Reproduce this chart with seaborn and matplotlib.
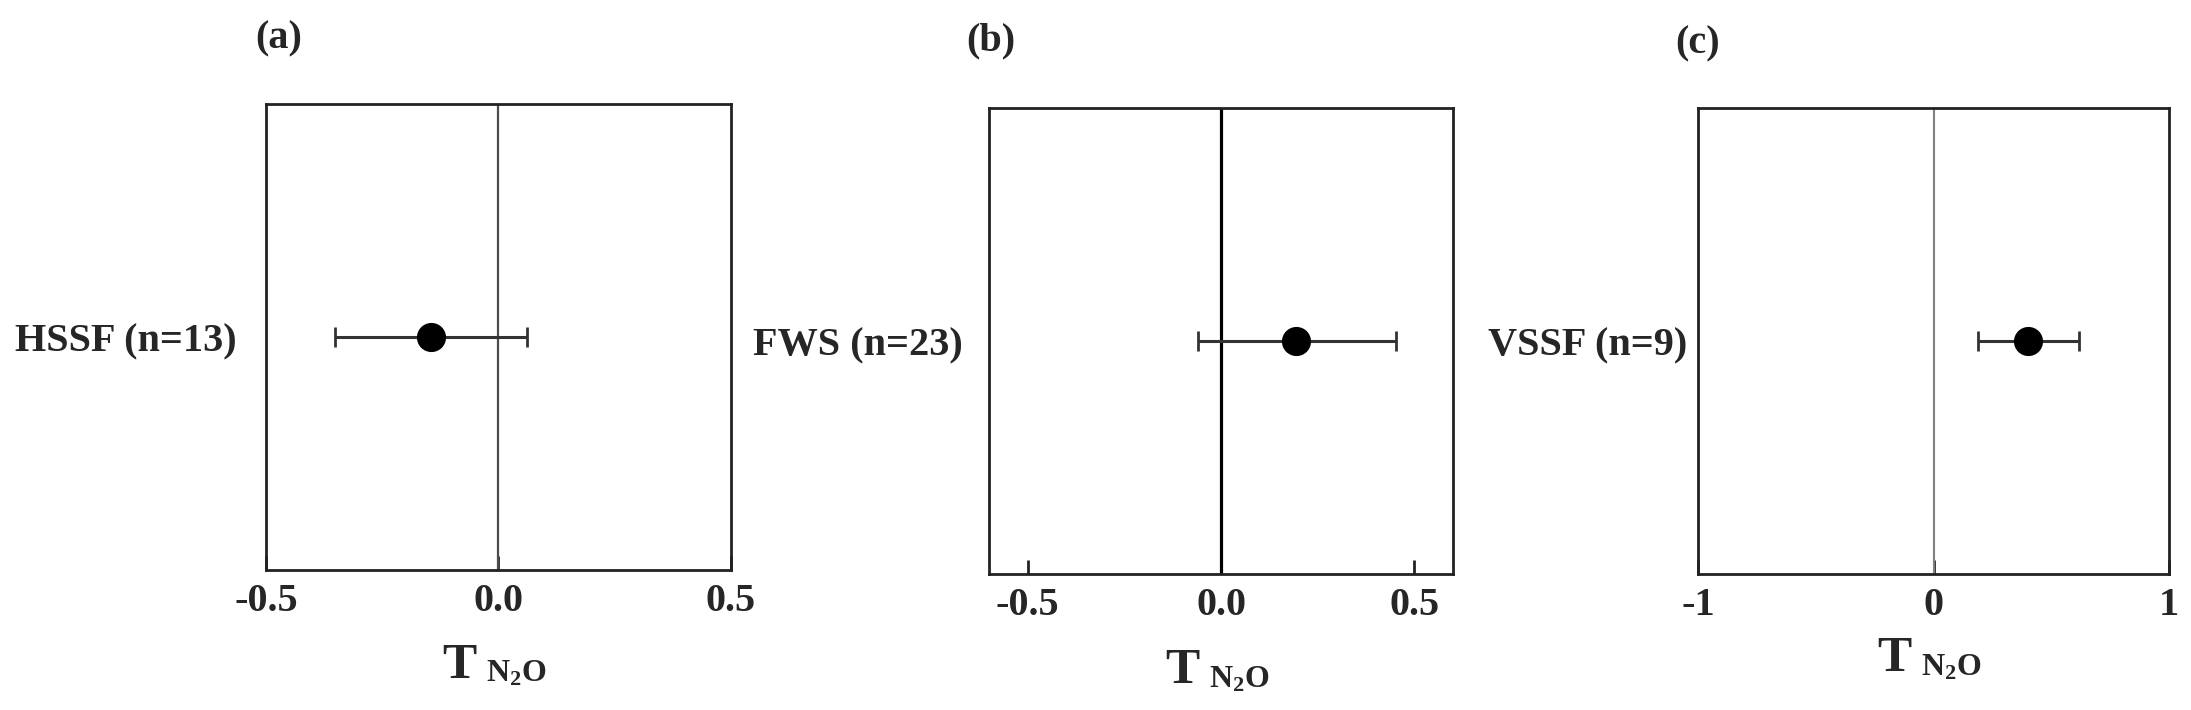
# forest-style panels: effect size T(N2O) for three wetland types
import numpy as np
import pandas as pd
import matplotlib
matplotlib.use('Agg')
import matplotlib.pyplot as plt
import seaborn as sns

# data
groups = ['HSSF (n=13)', 'FWS (n=23)', 'VSSF (n=9)']
effect = [-0.145, 0.195, 0.403]
ci_low = [-0.352, -0.060, 0.188]
ci_high = [0.062, 0.453, 0.616]
panel_tags = ['(a)', '(b)', '(c)']
x_limits = [(-0.5, 0.5), (-0.6, 0.6), (-1, 1)]
x_ticks = [[-0.5, 0.0, 0.5], [-0.5, 0.0, 0.5], [-1, 0, 1]]
x_ticklabels = [['-0.5', '0.0', '0.5'], ['-0.5', '0.0', '0.5'], ['-1', '0', '1']]

sns.set_theme(style='white')
plt.rcParams['font.family'] = ['Liberation Serif', 'DejaVu Serif']
plt.rcParams['font.weight'] = 'bold'
plt.rcParams['axes.unicode_minus'] = False
plt.rcParams['mathtext.fontset'] = 'custom'
plt.rcParams['mathtext.rm'] = 'Liberation Serif:bold'
plt.rcParams['mathtext.bf'] = 'Liberation Serif:bold'

fig = plt.figure(figsize=(21.91, 7.1), dpi=100)

# axes placement in figure fractions
boxes = [[0.1214, 0.1965, 0.2122, 0.6577],
         [0.4514, 0.1915, 0.2118, 0.6563],
         [0.7750, 0.1915, 0.2150, 0.6563]]
zero_style = [('#4d4d4d', 1.6), ('black', 2.3), ('#808080', 1.5)]
ylab_pad = [21, 19, 8]
xlab_y = [-0.155, -0.159, -0.133]
tag_pos = [(0.028, 1.138), (0.004, 1.144), (0.0, 1.137)]

for i in range(3):
    ax = fig.add_axes(boxes[i])
    df = pd.DataFrame({'effect': [effect[i]], 'group': [groups[i]]})

    # zero line
    ax.axvline(0, color=zero_style[i][0], lw=zero_style[i][1], zorder=1)

    # 95% CI bar
    err = [[effect[i] - ci_low[i]], [ci_high[i] - effect[i]]]
    ax.errorbar(x=[effect[i]], y=[groups[i]], xerr=err, fmt='none',
                ecolor='#333333', elinewidth=2.2, capsize=7, capthick=2, zorder=2)

    # mean effect
    sns.scatterplot(data=df, x='effect', y='group', ax=ax, color='black',
                    s=440, linewidth=0, zorder=3)

    ax.set_xlim(*x_limits[i])
    ax.set_ylim(-1, 1)
    ax.set_xticks(x_ticks[i])
    ax.set_xticklabels(x_ticklabels[i])
    ax.tick_params(axis='x', bottom=True, direction='in', length=10, width=2,
                   labelsize=29, pad=9, color='#222222')
    ax.tick_params(axis='y', left=False, length=0, labelsize=29, pad=ylab_pad[i])

    for sp in ax.spines.values():
        sp.set_visible(True)
        sp.set_color('#222222')
        sp.set_linewidth(2)

    ax.set_ylabel('')
    ax.set_xlabel('T', fontsize=37, fontweight='bold')
    ax.xaxis.set_label_coords(0.416, xlab_y[i])
    ax.xaxis.label.set_va('top')
    ax.annotate(r'$\mathbf{N_2O}$', xy=(1, 0), xycoords=ax.xaxis.label,
                xytext=(7, 5), textcoords='offset points',
                fontsize=23, ha='left', va='baseline')

    ax.text(tag_pos[i][0], tag_pos[i][1], panel_tags[i], transform=ax.transAxes,
            ha='center', va='center', fontsize=29, fontweight='bold')

fig.savefig('out.png', dpi=100)
